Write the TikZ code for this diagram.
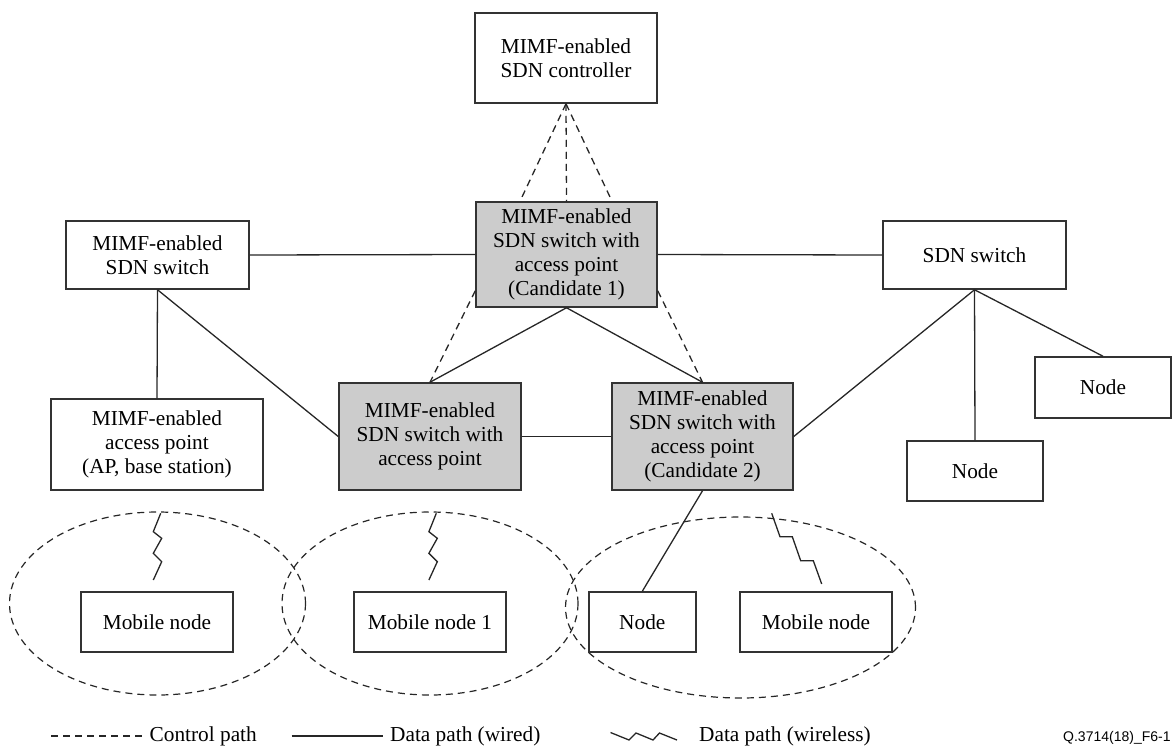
\documentclass[tikz,border=0pt]{standalone}
\usepackage{fontspec}
\setmainfont{Liberation Serif}
\newfontfamily\figsans{Liberation Sans}
\usetikzlibrary{shapes.geometric}
\begin{document}
\begin{tikzpicture}[x=1pt,y=-1pt,
  box/.style={draw=black!80, line width=1.5pt, fill=white, align=center, inner sep=0pt,
    font=\fontsize{21.3}{24}\selectfont},
  gbox/.style={box, fill=black!20},
  conn/.style={draw=black!85, line width=1.3pt, line join=miter},
  ctl/.style={conn, dash pattern=on 7pt off 5pt},
  zone/.style={ellipse, draw=black!85, line width=1.2pt, dash pattern=on 7pt off 5pt, inner sep=0pt},
  lbl/.style={anchor=base west, inner sep=0pt, font=\fontsize{21.3}{24}\selectfont},
  bolt/.pic={\draw[conn] (0,0) -- ++(-7.4,18.4) -- ++(8.4,6.6) -- ++(-8.4,15) -- ++(8.4,8.4) -- ++(-8.4,18.3);},
  stepbolt/.pic={\draw[conn] (0,0) -- ++(8.3,23.4) -- ++(12.3,0) -- ++(8.4,24) -- ++(12.6,0) -- ++(8.4,23.3);}
]
\useasboundingbox (0,0) rectangle (1172,747);

% coverage areas
\node[zone, minimum width=296, minimum height=183] (e1) at (157.5,603.5) {};
\node[zone, minimum width=296, minimum height=183] (e2) at (430,603.5) {};
\node[zone, minimum width=350, minimum height=181] (e3) at (740.5,607.5) {};

% boxes
\node[box, minimum width=182, minimum height=90] (ctrl) at (566,58) {MIMF-enabled\\SDN controller};
\node[gbox, minimum width=181, minimum height=105] (c1) at (566.5,254.5) {MIMF-enabled\\SDN switch with\\access point\\(Candidate 1)};
\node[box, minimum width=183, minimum height=68] (lsw) at (157.5,255) {MIMF-enabled\\SDN switch};
\node[box, minimum width=183, minimum height=68] (rsw) at (974.5,255) {SDN switch};
\node[box, minimum width=212, minimum height=91] (lap) at (157,444.5) {MIMF-enabled\\access point\\(AP, base station)};
\node[gbox, minimum width=182, minimum height=107] (mid) at (430,436.5) {MIMF-enabled\\SDN switch with\\access point};
\node[gbox, minimum width=181, minimum height=107] (c2) at (702.5,436.5) {MIMF-enabled\\SDN switch with\\access point\\(Candidate 2)};
\node[box, minimum width=136, minimum height=61] (nr) at (1103,387.5) {Node};
\node[box, minimum width=136, minimum height=60] (nb) at (975,471) {Node};
\node[box, minimum width=152, minimum height=60] (mn1) at (157,622) {Mobile node};
\node[box, minimum width=152, minimum height=60] (mn2) at (430,622) {Mobile node 1};
\node[box, minimum width=107, minimum height=60] (n3) at (642.3,622) {Node};
\node[box, minimum width=152, minimum height=60] (mn3) at (816,622) {Mobile node};

% control paths
\draw[ctl] (ctrl.south) -- ([xshift=-46.5pt]c1.north);
\draw[ctl] (ctrl.south) -- (c1.north);
\draw[ctl] (ctrl.south) -- ([xshift=45.5pt]c1.north);
\draw[ctl] ([yshift=17pt]c1.south west) -- (mid.north);
\draw[ctl] ([yshift=17pt]c1.south east) -- (c2.north);

% wired data paths
\draw[conn] (lsw.east) -- (c1.west);
\draw[conn] (c1.east) -- (rsw.west);
\draw[conn] (lsw.south) -- (lap.north);
\draw[conn] (lsw.south) -- (mid.west);
\draw[conn] (c1.south) -- (mid.north);
\draw[conn] (c1.south) -- (c2.north);
\draw[conn] (mid.east) -- (c2.west);
\draw[conn] (c2.east) -- (rsw.south);
\draw[conn] (rsw.south) -- (nb.north);
\draw[conn] (rsw.south) -- (nr.north);
\draw[conn] (c2.south) -- (n3.north);

% wireless data paths
\coordinate (w1) at (160.7,513.3);
\coordinate (w2) at (436.3,513.3);
\coordinate (w3) at (771.7,513.3);
\pic at (w1) {bolt};
\pic at (w2) {bolt};
\pic at (w3) {stepbolt};

% legend
\coordinate (la1) at (51,736);   \coordinate (la2) at (142,736);
\coordinate (lb1) at (291.5,736); \coordinate (lb2) at (383,736);
\coordinate (lc1) at (610.5,732.5);
\draw[ctl] (la1) -- (la2);
\draw[conn] (lb1) -- (lb2);
\draw[conn] (lc1) -- ++(18.5,7.5) -- ++(7,-7) -- ++(17,7) -- ++(6.5,-7) -- ++(17.5,7);
\node[lbl] (lt1) at (149.5,741) {Control path};
\node[lbl] (lt2) at (390,741) {Data path (wired)};
\node[lbl] (lt3) at (699,741) {Data path (wireless)};
\node[lbl, font=\figsans\fontsize{14}{16}\selectfont] (ref) at (1063,741) {Q.3714(18)\_F6-1};
\end{tikzpicture}
\end{document}
